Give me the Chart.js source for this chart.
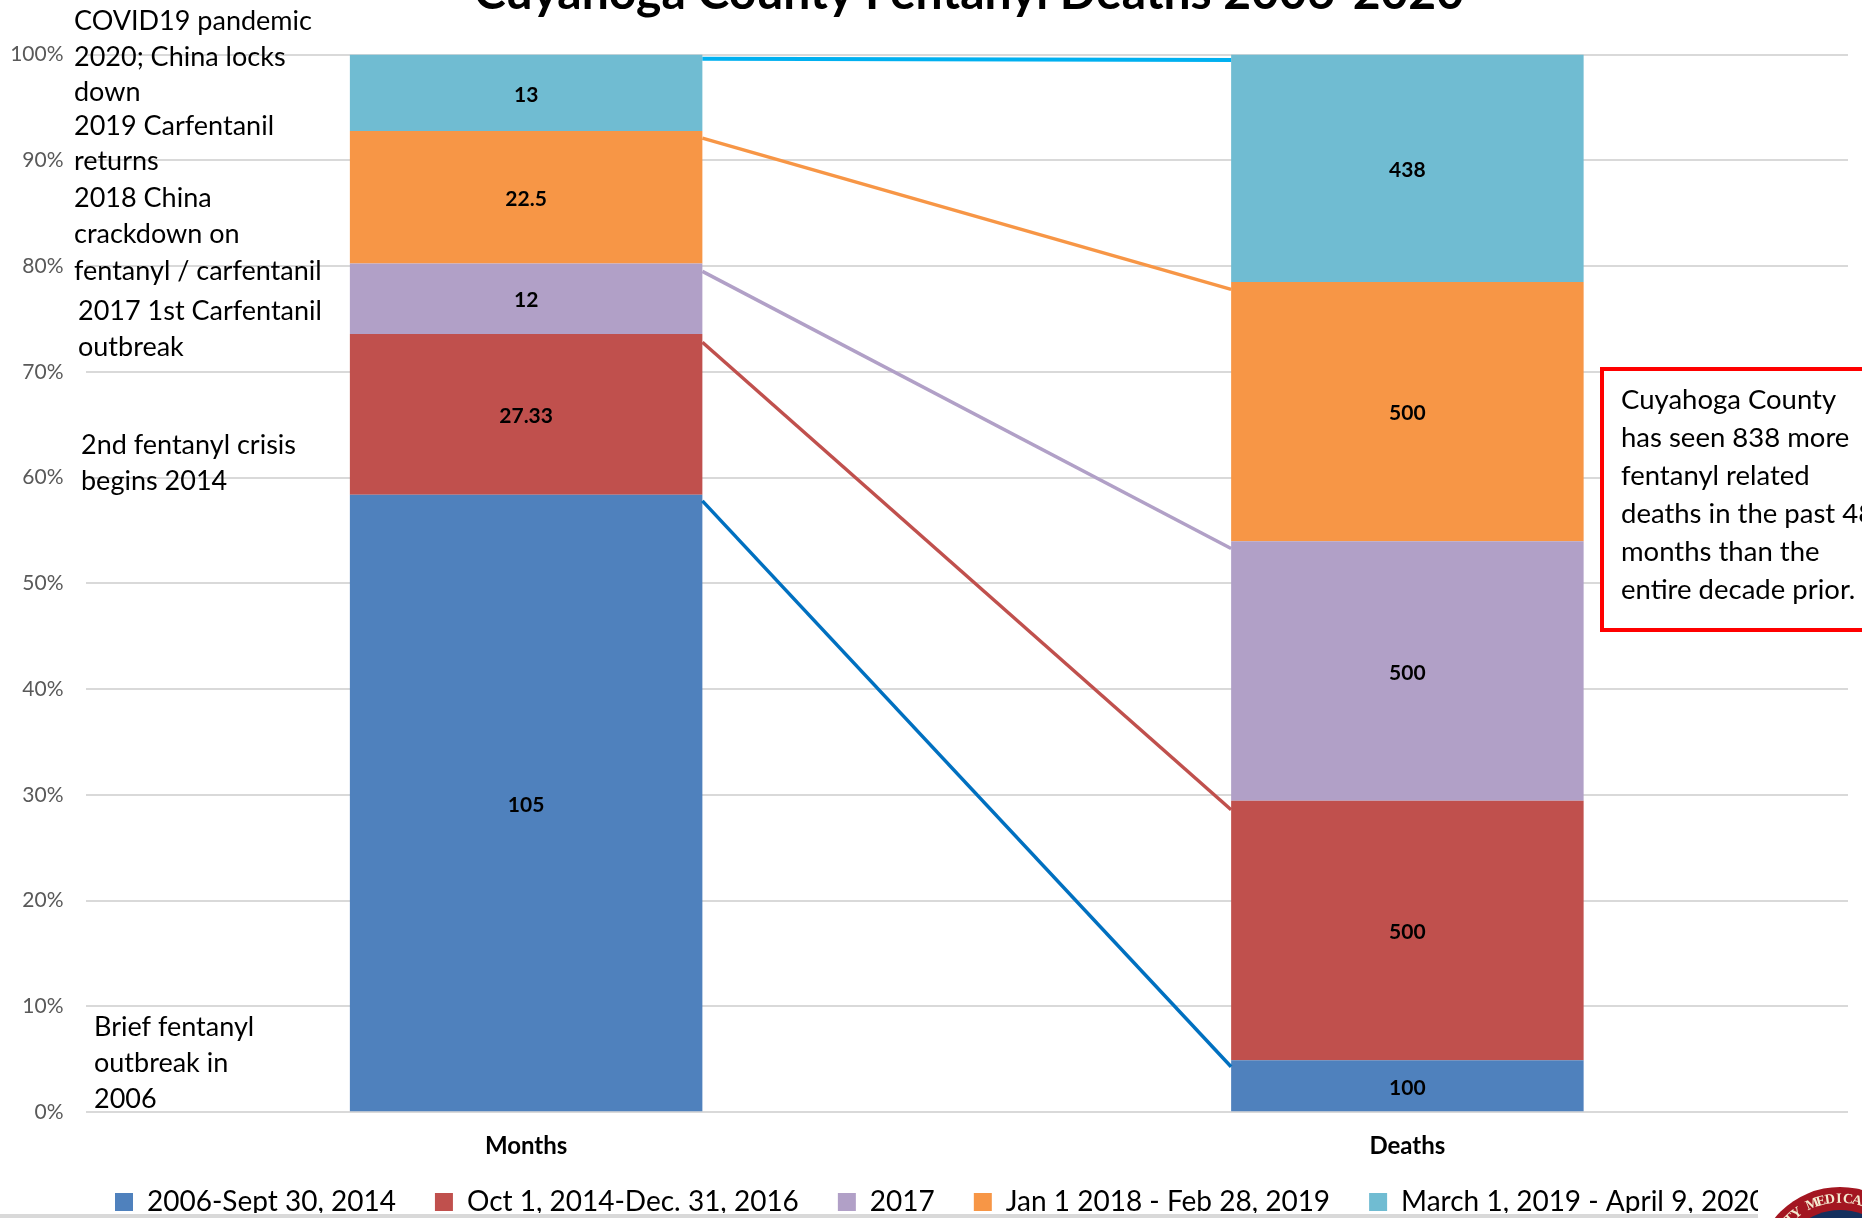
<!DOCTYPE html>
<html><head><meta charset="utf-8">
<style>html,body{margin:0;padding:0;background:#fff;overflow:hidden;width:1862px;height:1218px}
#w{position:absolute;left:0;top:-40px;width:1862px;height:1258px}</style>
<script src="https://cdn.jsdelivr.net/npm/chart.js@4"></script></head>
<body><div id="w"><canvas id="c" width="1862" height="1258"></canvas></div>
<script>
const categories = ["Months","Deaths"];
const categoryX = [0.5,1.5];
const periods = ["2006-Sept 30, 2014","Oct 1, 2014-Dec. 31, 2016","2017","Jan 1 2018 - Feb 28, 2019","March 1, 2019 - April 9, 2020"];
const period1 = [105,100];
const period2 = [27.33,500];
const period3 = [12,500];
const period4 = [22.5,500];
const period5 = [13,438];
const periodColors = ["#4F81BD","#C0504D","#B1A0C7","#F79646","#70BCD2"];
const connectorX = [0.7,1.3];
const connectorBlue = [57.8,4.3];
const connectorRed = [72.8,28.6];
const connectorPurple = [79.5,53.3];
const connectorOrange = [92.1,77.8];
const connectorCyan = [99.6,99.5];
const connectorColors = ["#0070C0","#C0504D","#B1A0C7","#F79646","#00B0F0"];
const yTicks = [0,10,20,30,40,50,60,70,80,90,100];
const noteCovid = ["COVID19 pandemic","2020; China locks","down"];
const note2019 = ["2019 Carfentanil","returns"];
const note2018 = ["2018 China","crackdown on","fentanyl / carfentanil"];
const note2017 = ["2017 1st Carfentanil","outbreak"];
const note2014 = ["2nd fentanyl crisis","begins 2014"];
const note2006 = ["Brief fentanyl","outbreak in","2006"];
const calloutLines = ["Cuyahoga County","has seen 838 more","fentanyl related","deaths in the past 48","months than the","entire decade prior."];
const sealText = "COUNTY MEDICAL";
const titleText = "Cuyahoga County Fentanyl Deaths 2006-2020";

const OFF = 40;
const FONT = "Lato, 'Open Sans', sans-serif";
const seriesAll = [period1,period2,period3,period4,period5];
const totals = categories.map((_,i)=>seriesAll.reduce((a,s)=>a+s[i],0));
const barSets = seriesAll.map((s,k)=>({
  type:'bar',label:periods[k],data:s.map((v,i)=>({x:categoryX[i],y:v/totals[i]*100})),raw:s,
  backgroundColor:periodColors[k],borderWidth:0,stack:'a',
  categoryPercentage:1,barPercentage:0.4,xAxisID:'x',yAxisID:'y',order:2
}));
const lineSets = [connectorBlue,connectorRed,connectorPurple,connectorOrange,connectorCyan].map((s,k)=>({
  type:'line',label:'connector'+k,isConnector:true,
  data:s.map((v,i)=>({x:connectorX[i],y:v})),
  borderColor:connectorColors[k],borderWidth:k===4?4:3.5,pointRadius:0,fill:false,tension:0,
  xAxisID:'x',yAxisID:'yLine',order:1,clip:false
}));
const notes = [
 {lines:noteCovid,x:74,y:[21,57,92]},
 {lines:note2019,x:74,y:[126,161]},
 {lines:note2018,x:74,y:[198,234,271]},
 {lines:note2017,x:78,y:[311,347]},
 {lines:note2014,x:81,y:[445,481]},
 {lines:note2006,x:94,y:[1027,1063,1099]}
];
const overlay = {
 id:'overlay',
 afterLayout(chart){
   const l=chart.legend;
   l.left=115-l.options.labels.padding; l.top=1188+OFF-l.options.labels.padding;
   chart.titleBlock.left=90;
 },
 afterDatasetsDraw(chart){
   const ctx=chart.ctx; ctx.save();
   ctx.textAlign='center';ctx.textBaseline='middle';ctx.fillStyle='#000';ctx.font="bold 21px "+FONT;
   barSets.forEach((ds,k)=>{
     chart.getDatasetMeta(k).data.forEach((bar,i)=>{
       const p=bar.getCenterPoint();ctx.fillText(String(ds.raw[i]),p.x,p.y+2);
     });
   });
   ctx.restore();
 },
 afterDraw(chart){
   const ctx=chart.ctx; ctx.save();
   ctx.textAlign='left';ctx.textBaseline='middle';ctx.fillStyle='#000';ctx.font="27px "+FONT;
   notes.forEach(n=>n.lines.forEach((t,i)=>ctx.fillText(t,n.x,n.y[i]+OFF)));
   // callout
   ctx.fillStyle='#fff';ctx.fillRect(1602,369+OFF,270,261);
   ctx.strokeStyle='#FF0000';ctx.lineWidth=4;ctx.strokeRect(1602,369+OFF,270,261);
   ctx.fillStyle='#000';ctx.font="27.5px "+FONT;
   calloutLines.forEach((t,i)=>ctx.fillText(t,1621,400+38*i+OFF));
   // legend clip, footer rule and seal
   ctx.fillStyle='#fff';ctx.fillRect(1758,1185+OFF,110,40);
   ctx.fillStyle='#D9D9D9';ctx.fillRect(0,1214+OFF,1758,4);
   const cx=1840,cy=1271+OFF;
   ctx.beginPath();ctx.arc(cx,cy,84,0,Math.PI*2);ctx.fillStyle='#A31621';ctx.fill();
   ctx.beginPath();ctx.arc(cx,cy,61,0,Math.PI*2);ctx.fillStyle='#14305E';ctx.fill();
   ctx.fillStyle='#F4EBD0';ctx.font="bold 14px 'Liberation Serif'";ctx.textAlign='center';
   [...sealText].forEach((ch,i)=>{
     const a=(13.6+(i-12)*7.2)*Math.PI/180;
     ctx.save();ctx.translate(cx+72*Math.sin(a),cy-72*Math.cos(a));ctx.rotate(a);ctx.fillText(ch,0,0);ctx.restore();
   });
   ctx.restore();
 }
};
new Chart(document.getElementById('c'),{
 data:{datasets:[...barSets,...lineSets]},
 plugins:[overlay],
 options:{
  responsive:false,animation:false,
  layout:{padding:{left:0,right:14,top:0,bottom:5}},
  plugins:{
   tooltip:{enabled:false},
   title:{display:true,text:titleText,color:'#000',font:{family:FONT,size:48,weight:'bold'},padding:{top:5,bottom:32}},
   legend:{position:'bottom',align:'start',maxHeight:40,
     labels:{padding:39,boxWidth:18,boxHeight:18,color:'#000',font:{family:FONT,size:28},
       filter:(it,d)=>!d.datasets[it.datasetIndex].isConnector}}
  },
  scales:{
   x:{type:'linear',min:0,max:2,offset:false,stacked:true,grid:{display:false},border:{display:false},
      afterBuildTicks(s){s.ticks=categoryX.map(v=>({value:v}));},
      ticks:{color:'#000',font:{family:FONT,size:24,weight:'bold'},padding:12,maxRotation:0,autoSkip:false,
             callback:(v,i)=>categories[i]}},
   y:{stacked:true,min:0,max:100,
      afterFit(s){s.width=85.5;},
      afterBuildTicks(s){s.ticks=yTicks.map(v=>({value:v}));},
      grid:{color:'#D9D9D9',lineWidth:2,drawTicks:false},border:{display:false},
      ticks:{color:'#595959',font:{family:FONT,size:21},padding:22,callback:v=>v+'%'}},
   yLine:{type:'linear',min:0,max:100,display:false}
  }
 }
});
</script></body></html>
